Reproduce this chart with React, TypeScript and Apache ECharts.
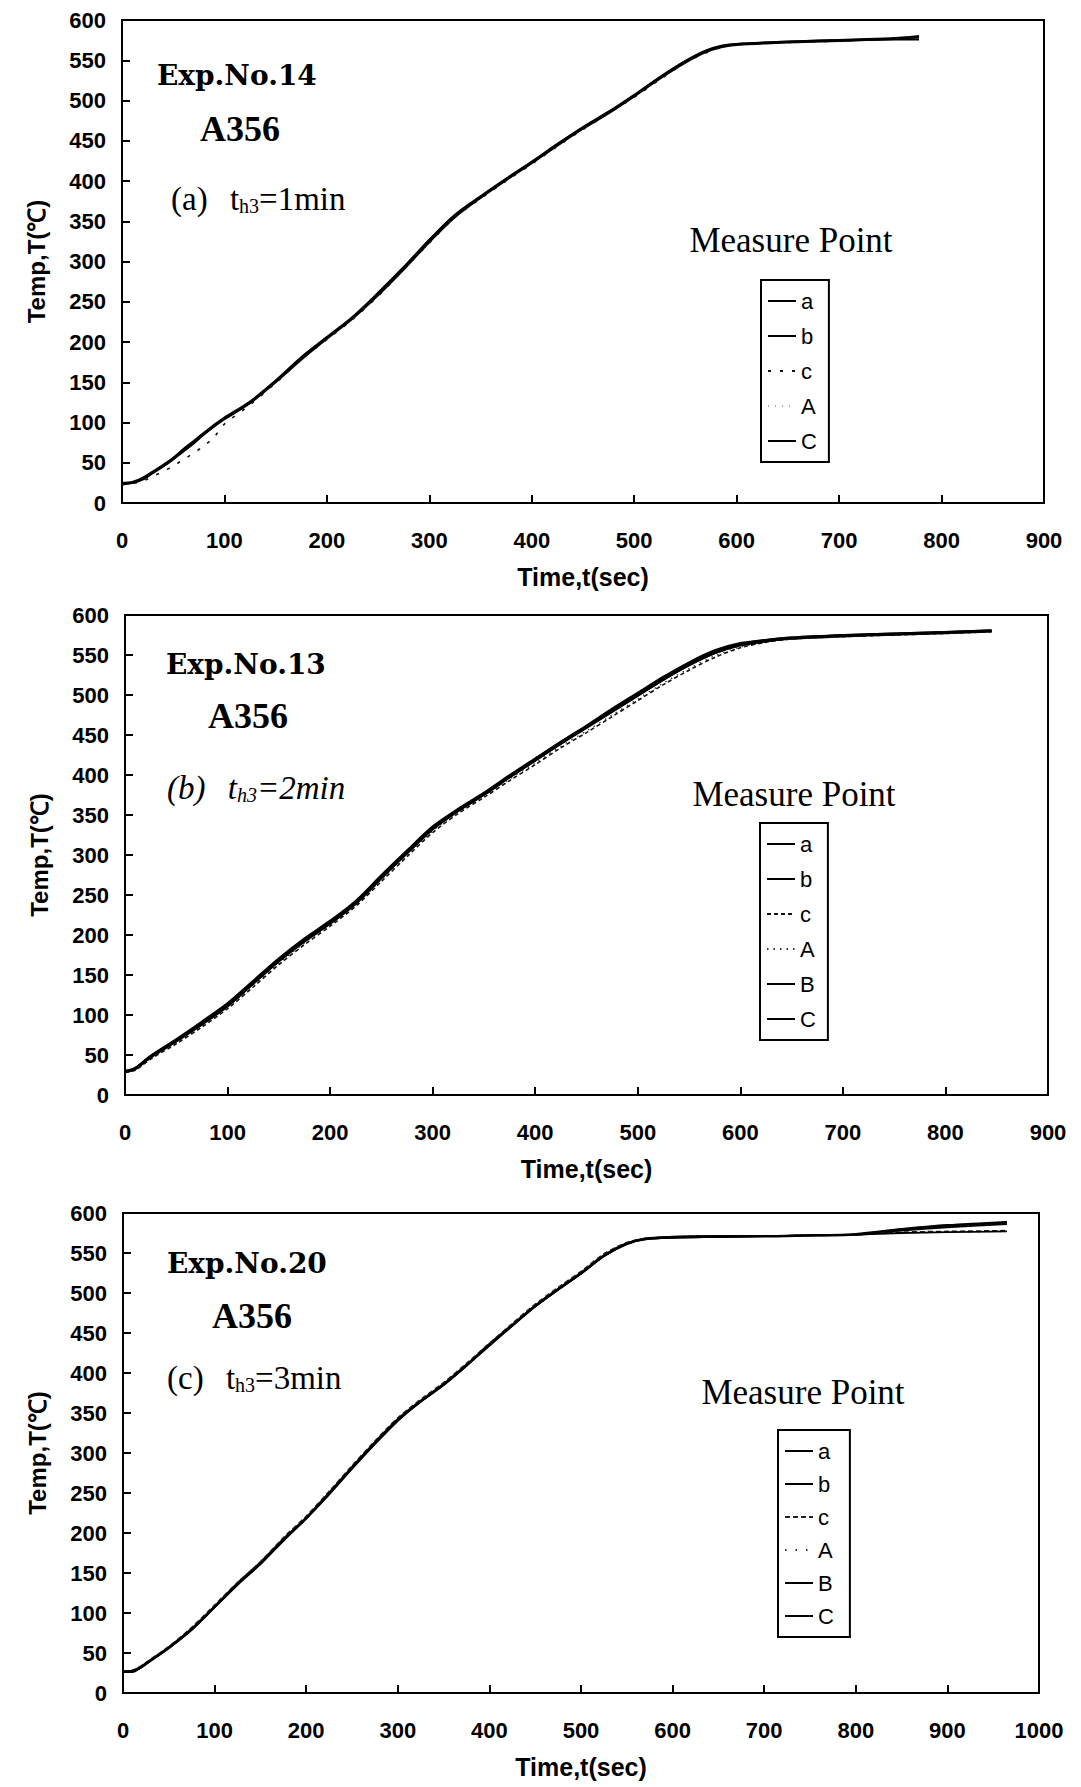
import React, { useEffect, useRef } from 'react';
import * as echarts from 'echarts';

// ---------- DATA ----------
const Y_MIN = 0;
const Y_MAX = 600;
const Y_STEP = 50;
const X_STEP = 100;
const X_MAX = [900, 900, 1000];

const X_NAME = 'Time,t(sec)';
const Y_NAME = 'Temp,T(℃)';

// Panel (a): Exp.No.14
const P1_T = [0, 10, 20, 30, 40, 50, 60, 70, 80, 90, 100, 125, 150, 175, 200, 225, 250, 275, 300, 325, 350, 375, 400, 425, 450, 475, 500, 525, 550, 570, 585, 600, 650, 700, 750, 778];
const P1_a = [24, 25, 30, 38, 46, 55, 66, 76, 86, 96, 105, 125, 151, 180, 205, 230, 260, 292, 326, 357, 380, 402, 423, 445, 466, 485, 506, 528, 548, 561, 567, 570, 573, 575, 577, 580];
const P1_b = [23, 25, 29, 37, 45, 54, 64, 74, 85, 95, 104, 124, 150, 178, 204, 229, 258, 290, 324, 355, 379, 401, 422, 444, 465, 484, 505, 527, 547, 560, 566, 569, 572, 574, 576, 579];
const P1_c = [23, 24, 27, 33, 39, 46, 54, 62, 71, 82, 98, 122, 149, 178, 203, 228, 257, 290, 323, 355, 378, 400, 421, 443, 464, 484, 504, 526, 547, 559, 566, 569, 572, 574, 577, 580];
const P1_A = [24, 26, 30, 38, 47, 56, 66, 77, 87, 97, 106, 126, 152, 180, 206, 230, 260, 293, 327, 357, 381, 403, 424, 446, 467, 486, 507, 528, 549, 562, 567, 570, 573, 575, 576, 577];
const P1_C = [25, 26, 31, 39, 47, 56, 67, 77, 87, 97, 106, 126, 152, 181, 206, 231, 261, 293, 327, 358, 381, 403, 424, 446, 467, 486, 507, 529, 549, 562, 568, 570, 573, 575, 576, 576];

// Panel (b): Exp.No.13
const P2_T = [0, 10, 25, 50, 75, 100, 125, 150, 175, 200, 225, 250, 275, 300, 325, 350, 375, 400, 425, 450, 475, 500, 525, 550, 575, 600, 625, 650, 700, 750, 800, 845];
const P2_a = [29, 33, 48, 68, 89, 112, 140, 168, 193, 215, 240, 272, 303, 333, 356, 376, 398, 419, 440, 460, 480, 500, 520, 538, 553, 563, 568, 571, 574, 576, 578, 580];
const P2_b = [30, 34, 49, 70, 92, 115, 143, 171, 196, 218, 243, 275, 306, 336, 358, 378, 400, 421, 442, 462, 483, 503, 523, 541, 556, 565, 569, 572, 575, 577, 579, 581];
const P2_c = [28, 31, 45, 64, 85, 108, 135, 163, 188, 211, 236, 267, 298, 328, 352, 372, 393, 413, 434, 453, 473, 493, 513, 531, 547, 559, 566, 570, 573, 575, 577, 579];
const P2_A = [28, 32, 46, 66, 87, 110, 137, 165, 190, 213, 238, 269, 300, 330, 354, 374, 395, 415, 436, 455, 475, 495, 515, 533, 549, 560, 566, 570, 573, 576, 578, 579];
const P2_B = [29, 33, 48, 69, 90, 113, 141, 169, 194, 216, 241, 273, 304, 334, 357, 377, 399, 420, 441, 461, 481, 501, 521, 539, 554, 563, 568, 571, 574, 576, 578, 580];
const P2_C = [30, 33, 47, 67, 88, 111, 139, 167, 192, 214, 239, 271, 302, 332, 355, 375, 397, 418, 439, 459, 479, 499, 519, 537, 552, 562, 567, 571, 574, 576, 578, 580];

// Panel (c): Exp.No.20
const P3_T = [0, 10, 20, 30, 50, 75, 100, 125, 150, 175, 200, 225, 250, 275, 300, 325, 350, 375, 400, 425, 450, 475, 500, 525, 550, 570, 600, 650, 700, 750, 800, 850, 900, 965];
const P3_a = [27, 27, 33, 41, 57, 80, 108, 137, 163, 192, 219, 250, 282, 313, 342, 365, 386, 410, 436, 460, 484, 505, 525, 547, 562, 568, 570, 571, 571, 572, 573, 579, 584, 588];
const P3_b = [26, 27, 32, 40, 56, 79, 107, 135, 161, 190, 218, 248, 280, 311, 340, 364, 385, 409, 434, 459, 483, 504, 524, 546, 561, 567, 569, 570, 571, 572, 573, 578, 582, 586];
const P3_c = [27, 28, 34, 42, 58, 82, 110, 138, 164, 194, 221, 252, 284, 315, 344, 367, 388, 412, 437, 462, 486, 507, 527, 549, 563, 568, 570, 571, 571, 572, 573, 576, 577, 578];
const P3_A = [27, 27, 33, 41, 57, 81, 109, 137, 163, 193, 220, 251, 283, 314, 343, 366, 387, 411, 436, 461, 485, 506, 526, 548, 562, 568, 570, 571, 571, 572, 573, 575, 576, 577];
const P3_B = [26, 26, 32, 40, 56, 79, 107, 136, 161, 191, 218, 249, 281, 312, 341, 364, 385, 409, 435, 459, 483, 504, 524, 546, 561, 567, 569, 570, 571, 572, 573, 575, 576, 577];
const P3_C = [27, 28, 33, 41, 57, 80, 108, 136, 162, 192, 219, 250, 282, 313, 342, 365, 386, 410, 435, 460, 484, 505, 525, 547, 562, 568, 570, 571, 571, 572, 574, 580, 585, 589];

const EXP_LABELS = ['Exp.No.14', 'Exp.No.13', 'Exp.No.20'];
const ALLOY = 'A356';
const CASE_LABELS = ['(a)', '(b)', '(c)'];
const HOLD_VALUES = ['=1min', '=2min', '=3min'];
const LEGEND_TITLE = 'Measure Point';

// ---------- STYLE / LAYOUT ----------
const SANS = "'Liberation Sans', Arial, sans-serif";
const SERIF = "'Liberation Serif', 'Times New Roman', serif";
const DSERIF = "'DejaVu Serif', serif";

type LS = { width: number; type: any; color: string };
const SOLID = (w: number): LS => ({ width: w, type: 'solid', color: '#000' });
const DASH: LS = { width: 1.6, type: [4, 3], color: '#111' };
const DOT: LS = { width: 1.3, type: [1.5, 5], color: '#333' };

const PANELS = [
  {
    times: P1_T,
    series: [
      { key: 'a', values: P1_a, line: SOLID(2.4) },
      { key: 'b', values: P1_b, line: SOLID(2) },
      { key: 'c', values: P1_c, line: { width: 1.6, type: [3, 9], color: '#111' } },
      { key: 'A', values: P1_A, line: { width: 1, type: [1, 6], color: '#aaa' } },
      { key: 'C', values: P1_C, line: SOLID(2.2) },
    ],
    grid: { left: 122, top: 20, width: 922, height: 483 },
    legend: { left: 761, top: 280, gap: 13, padRight: 12 },
    title: { x: 791, y: 240 },
    text: { exp: [157, 75], alloy: [200, 129], hold: [171, 199] },
    italic: false,
  },
  {
    times: P2_T,
    series: [
      { key: 'a', values: P2_a, line: SOLID(3.2) },
      { key: 'b', values: P2_b, line: SOLID(1.8) },
      { key: 'c', values: P2_c, line: DASH },
      { key: 'A', values: P2_A, line: DOT },
      { key: 'B', values: P2_B, line: SOLID(2) },
      { key: 'C', values: P2_C, line: SOLID(2) },
    ],
    grid: { left: 125, top: 615, width: 923, height: 480 },
    legend: { left: 760, top: 823, gap: 13, padRight: 12 },
    title: { x: 794, y: 794 },
    text: { exp: [166, 664], alloy: [208, 716], hold: [167, 788] },
    italic: true,
  },
  {
    times: P3_T,
    series: [
      { key: 'a', values: P3_a, line: SOLID(2.4) },
      { key: 'b', values: P3_b, line: SOLID(1.8) },
      { key: 'c', values: P3_c, line: { width: 1.6, type: [5, 3], color: '#222' } },
      { key: 'A', values: P3_A, line: { width: 1.3, type: [1.5, 9], color: '#333' } },
      { key: 'B', values: P3_B, line: SOLID(1.8) },
      { key: 'C', values: P3_C, line: SOLID(1.8) },
    ],
    grid: { left: 123, top: 1213, width: 916, height: 480 },
    legend: { left: 778, top: 1430, gap: 11, padRight: 16 },
    title: { x: 803, y: 1392 },
    text: { exp: [167, 1263], alloy: [212, 1316], hold: [167, 1378] },
    italic: false,
  },
];

function buildOption() {
  const grid: any[] = [];
  const xAxis: any[] = [];
  const yAxis: any[] = [];
  const series: any[] = [];
  const legend: any[] = [];
  const graphic: any[] = [];

  PANELS.forEach((p, i) => {
    grid.push({
      ...p.grid,
      show: true,
      borderColor: '#000',
      borderWidth: 2,
      backgroundColor: 'transparent',
      containLabel: false,
    });
    xAxis.push({
      gridIndex: i,
      type: 'value',
      min: 0,
      max: X_MAX[i],
      interval: X_STEP,
      axisLine: { show: true, lineStyle: { color: '#000', width: 2 } },
      axisTick: { show: true, inside: true, length: 8, lineStyle: { color: '#000', width: 2 } },
      axisLabel: {
        color: '#000',
        fontSize: 22,
        fontWeight: 'bold',
        fontFamily: SANS,
        margin: 26,
        formatter: (v: number) => String(v),
      },
      splitLine: { show: false },
      name: X_NAME,
      nameLocation: 'middle',
      nameGap: 61,
      nameTextStyle: { color: '#000', fontSize: 25, fontWeight: 'bold', fontFamily: SANS },
    });
    yAxis.push({
      gridIndex: i,
      type: 'value',
      min: Y_MIN,
      max: Y_MAX,
      interval: Y_STEP,
      axisLine: { show: true, lineStyle: { color: '#000', width: 2 } },
      axisTick: { show: true, inside: true, length: 8, lineStyle: { color: '#000', width: 2 } },
      axisLabel: {
        color: '#000',
        fontSize: 22,
        fontWeight: 'bold',
        fontFamily: SANS,
        margin: 16,
        formatter: (v: number) => String(v),
      },
      splitLine: { show: false },
      name: Y_NAME,
      nameLocation: 'middle',
      nameRotate: 90,
      nameGap: 74,
      nameTextStyle: { color: '#000', fontSize: 24, fontWeight: 'bold', fontFamily: SANS },
    });

    const names: string[] = [];
    p.series.forEach((s) => {
      const name = `${i + 1}-${s.key}`;
      names.push(name);
      series.push({
        name,
        type: 'line',
        xAxisIndex: i,
        yAxisIndex: i,
        data: p.times.map((t, k) => [t, s.values[k]]),
        symbol: 'none',
        showSymbol: false,
        smooth: 0.3,
        lineStyle: { color: s.line.color, width: s.line.width, type: s.line.type },
        itemStyle: { color: s.line.color },
        emphasis: { disabled: true },
        z: 3,
      });
    });

    legend.push({
      data: names,
      orient: 'vertical',
      left: p.legend.left,
      top: p.legend.top,
      itemGap: p.legend.gap,
      itemWidth: 28,
      itemHeight: 14,
      padding: [10, p.legend.padRight, 10, 6],
      borderColor: '#000',
      borderWidth: 2,
      selectedMode: false,
      itemStyle: { opacity: 0 },
      formatter: (n: string) => n.split('-')[1],
      textStyle: { color: '#000', fontSize: 22, fontFamily: SANS },
    });

    // annotations
    graphic.push({
      type: 'text',
      x: p.text.exp[0],
      y: p.text.exp[1],
      style: {
        text: EXP_LABELS[i],
        fontFamily: DSERIF,
        fontWeight: 'bold',
        fontSize: 28,
        fill: '#000',
        textAlign: 'left',
        textVerticalAlign: 'middle',
      },
    });
    graphic.push({
      type: 'text',
      x: p.text.alloy[0],
      y: p.text.alloy[1],
      style: {
        text: ALLOY,
        fontFamily: SERIF,
        fontWeight: 'bold',
        fontSize: 36,
        fill: '#000',
        textAlign: 'left',
        textVerticalAlign: 'middle',
      },
    });
    const fs = p.italic ? 'italic' : 'normal';
    graphic.push({
      type: 'text',
      x: p.text.hold[0],
      y: p.text.hold[1],
      style: {
        text: `{n|${CASE_LABELS[i]} }{g|t}{s|h3}{n|${HOLD_VALUES[i]}}`,
        textAlign: 'left',
        textVerticalAlign: 'middle',
        rich: {
          n: { fontFamily: SERIF, fontSize: 33, fontStyle: fs, fill: '#000', lineHeight: 34, verticalAlign: 'middle' },
          g: { fontFamily: SERIF, fontSize: 33, fontStyle: fs, fill: '#000', lineHeight: 34, verticalAlign: 'middle', padding: [0, 0, 0, 14] },
          s: { fontFamily: SERIF, fontSize: 20, fontStyle: fs, fill: '#000', lineHeight: 12, verticalAlign: 'bottom' },
        },
      },
    });
    graphic.push({
      type: 'text',
      x: p.title.x,
      y: p.title.y,
      style: {
        text: LEGEND_TITLE,
        fontFamily: SERIF,
        fontSize: 35,
        fill: '#000',
        textAlign: 'center',
        textVerticalAlign: 'middle',
      },
    });
  });

  return {
    animation: false,
    backgroundColor: '#fff',
    grid,
    xAxis,
    yAxis,
    series,
    legend,
    graphic,
  };
}

export default function App() {
  const ref = useRef<HTMLDivElement>(null);
  useEffect(() => {
    document.body.style.margin = '0';
    if (!ref.current) return;
    const chart = echarts.init(ref.current, undefined, { renderer: 'svg' });
    chart.setOption(buildOption() as any);
    return () => {
      chart.dispose();
    };
  }, []);
  return <div ref={ref} style={{ width: 1081, height: 1787, background: '#fff' }} />;
}
